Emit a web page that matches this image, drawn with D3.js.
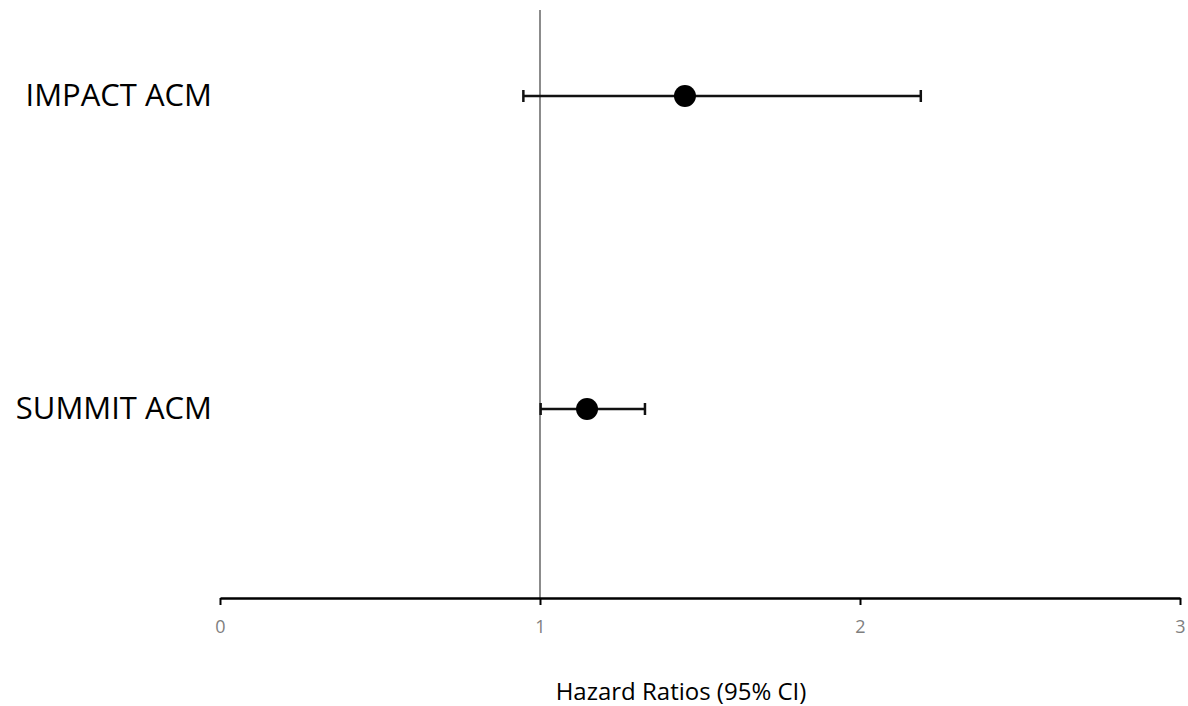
<!DOCTYPE html>
<html>
<head>
<meta charset="utf-8">
<script src="https://cdn.jsdelivr.net/npm/d3@7"></script>
<style>
body{margin:0;background:#fff;}
svg{display:block;font-family:"Open Sans",sans-serif;}
</style>
</head>
<body>
<svg class="chart" width="1188" height="706"></svg>
<script>
var studies = ["IMPACT ACM","SUMMIT ACM"];
var hr      = [1.453, 1.147];
var lower   = [0.948, 1.002];
var upper   = [2.19, 1.328];
var xTicks  = [0, 1, 2, 3];
var xTitle  = "Hazard Ratios (95% CI)";

var svg = d3.select(".chart");

var scaleX = d3.scaleLinear().domain([0,3]).range([220,1180]);
var scaleY = d3.scalePoint().domain(studies).range([96,409]);
var axisY = 598;

var data = studies.map(function(d,i){ return {name:d, hr:hr[i], lo:lower[i], hi:upper[i]}; });

// reference line at HR = 1
svg.append("line")
	.attr("x1",scaleX(1)).attr("x2",scaleX(1))
	.attr("y1",10).attr("y2",axisY)
	.style("stroke","#7f7f7f")
	.style("stroke-width",1.8);

// x axis
var xAxis = d3.axisBottom(scaleX).tickValues(xTicks).tickFormat(d3.format("d")).tickSize(7).tickSizeOuter(0);
var gx = svg.append("g")
	.attr("transform","translate(0,"+axisY+")")
	.call(xAxis);
gx.select(".domain").style("stroke","#000").style("stroke-width",2.5);
gx.selectAll(".tick line").style("stroke","#000").style("stroke-width",2);
gx.selectAll(".tick text")
	.attr("y",22)
	.style("fill","#7f7f7f")
	.style("font-size","18px")
	.style("font-family","Open Sans, sans-serif");

svg.append("text")
	.attr("x",681).attr("y",700)
	.attr("text-anchor","middle")
	.style("font-size","24px")
	.style("fill","#000")
	.text(xTitle);

// error bars
var rows = svg.selectAll(".row").data(data).enter().append("g").attr("class","row");

rows.append("line")
	.attr("x1",function(d){return scaleX(d.lo);})
	.attr("x2",function(d){return scaleX(d.hi);})
	.attr("y1",function(d){return scaleY(d.name);})
	.attr("y2",function(d){return scaleY(d.name);})
	.style("stroke","#111").style("stroke-width",2.5);

["lo","hi"].forEach(function(k){
	rows.append("line")
		.attr("x1",function(d){return scaleX(d[k]);})
		.attr("x2",function(d){return scaleX(d[k]);})
		.attr("y1",function(d){return scaleY(d.name)-6;})
		.attr("y2",function(d){return scaleY(d.name)+6;})
		.style("stroke","#111").style("stroke-width",2.5);
});

rows.append("circle")
	.attr("cx",function(d){return scaleX(d.hr);})
	.attr("cy",function(d){return scaleY(d.name);})
	.attr("r",11)
	.style("fill","#000");

rows.append("text")
	.attr("x",212)
	.attr("y",function(d){return scaleY(d.name)+10;})
	.attr("text-anchor","end")
	.style("font-size","31px")
	.style("fill","#000")
	.text(function(d){return d.name;});
</script>
</body>
</html>
